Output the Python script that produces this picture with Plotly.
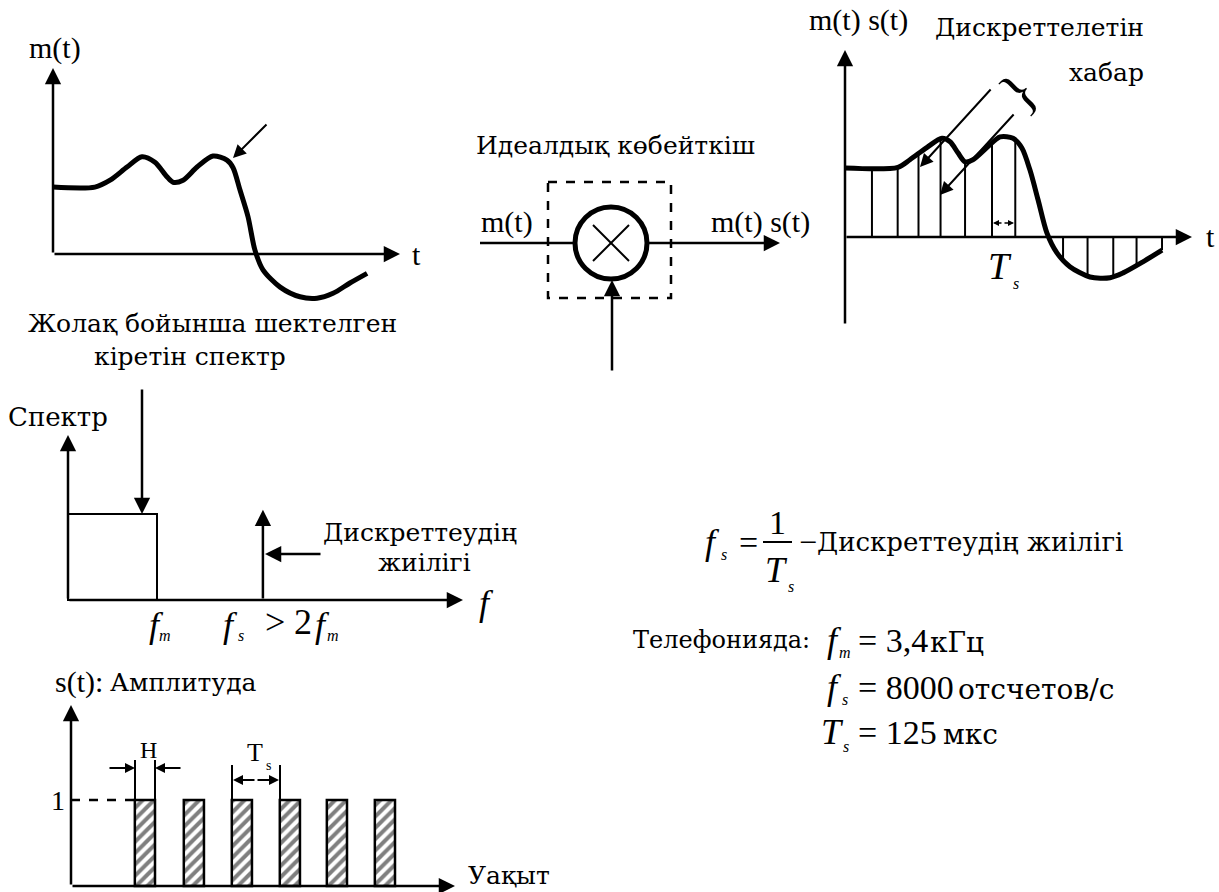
import plotly.graph_objects as go

W, H = 1219, 892
FONT = "Liberation Serif, 'Times New Roman', serif"
FONT_CYR = "'DejaVu Serif', serif"
BLACK = "#000000"

# --- data ------------------------------------------------------------------
# message m(t): time in sampling periods, amplitude relative to the flat start
MT_T = [0, 1.71, 2.33, 3.02, 3.63, 4.16, 4.65, 4.90, 5.31, 5.88, 6.53, 7.10,
        7.35, 7.63, 7.96, 8.24, 8.57, 9.27, 10.08, 10.78, 11.43, 12.12, 12.82]
MT_V = [0.97, 0.97, 1.07, 1.26, 1.41, 1.33, 1.12, 1.04, 1.07, 1.26, 1.42, 1.36,
        1.25, 0.93, 0.54, 0.06, -0.23, -0.48, -0.62, -0.64, -0.57, -0.42, -0.28]

# sampled message m(t)s(t)
MS_T = [0, 2.16, 2.65, 3.35, 3.96, 4.29, 4.61, 4.90, 5.22, 5.80, 6.33, 6.86,
        7.22, 7.55, 7.88, 8.24, 8.65, 9.18, 10.0, 10.82, 11.35, 12.16, 12.94]
MS_V = [1.0, 1.01, 1.12, 1.30, 1.43, 1.38, 1.22, 1.09, 1.12, 1.30, 1.45, 1.43,
        1.29, 0.97, 0.54, 0.06, -0.23, -0.43, -0.58, -0.59, -0.52, -0.36, -0.19]
SAMPLE_T = [1.1, 2.15, 3.0, 3.9, 4.9, 6.0, 6.95, 8.9, 9.9, 10.95, 11.9, 12.94]
SAMPLE_V = [1.0, 1.01, 1.21, 1.42, 1.09, 1.36, 1.42, -0.32, -0.56, -0.58, -0.42, -0.19]

# spectrum (frequency in units of f_m)
FM = 1.0
FS = 2.19
SPEC_H = 1.0
IMPULSE_H = 1.05

# sampling pulses s(t) (time in units of T_s)
PULSE_START = [1.33, 2.35, 3.35, 4.35, 5.33, 6.33]
PULSE_WIDTH = 0.42
PULSE_AMP = 1.0

fig = go.Figure()


def frame(idx, px0, px1, py0, py1, ox, oy, sx, sy):
    # an invisible axis pair placed on the page in pixels; origin (ox, oy), sx/sy px per unit
    xn = "xaxis" if idx == 1 else "xaxis%d" % idx
    yn = "yaxis" if idx == 1 else "yaxis%d" % idx
    xr = "x" if idx == 1 else "x%d" % idx
    yr = "y" if idx == 1 else "y%d" % idx
    fig.update_layout({
        xn: dict(domain=[px0 / W, px1 / W], range=[(px0 - ox) / sx, (px1 - ox) / sx],
                 visible=False, fixedrange=True, anchor=yr),
        yn: dict(domain=[1 - py1 / H, 1 - py0 / H], range=[(oy - py1) / sy, (oy - py0) / sy],
                 visible=False, fixedrange=True, anchor=xr),
    })
    return xr, yr


# page frame in pixels (y down) and one frame per small chart
PX, PY = frame(1, 0, W, 0, H, 0, 0, 1, -1)
A_O = (53, 254)
C_O = (845, 237)
S_O = (68, 600)
U_O = (71, 886)
AX, AY = frame(2, 0, 430, 30, 340, A_O[0], A_O[1], 24.5, 69)
CX, CY = frame(3, 790, W, 0, 340, C_O[0], C_O[1], 24.5, 69)
SX, SY = frame(4, 0, 520, 400, 660, S_O[0], S_O[1], 89, 86)
UX, UY = frame(5, 0, 620, 660, H, U_O[0], U_O[1], 48, 86)


def txt(x, y, s, size=30, anchor="center", angle=0, family=FONT):
    fig.add_annotation(x=x, y=y, xref=PX, yref=PY, text=s, showarrow=False,
                       xanchor=anchor, yanchor="middle", textangle=angle,
                       font=dict(family=family, size=size, color=BLACK))


def cyr(x, y, s, size=25, anchor="center"):
    txt(x, y, s, size=size, anchor=anchor, family=FONT_CYR)


def arrow(x0, y0, x1, y1, width=2.5, size=1.3, xr=PX, yr=PY):
    fig.add_annotation(x=x1, y=y1, ax=x0, ay=y0, xref=xr, yref=yr, axref=xr, ayref=yr,
                       text="", showarrow=True, arrowhead=2, arrowsize=size,
                       arrowwidth=width, arrowcolor=BLACK, standoff=0)


def line(x0, y0, x1, y1, width=2.5, dash="solid"):
    fig.add_shape(type="line", x0=x0, y0=y0, x1=x1, y1=y1, xref=PX, yref=PY,
                  line=dict(color=BLACK, width=width, dash=dash))


# ---- panel A: band limited message ----------------------------------------
fig.add_trace(go.Scatter(x=MT_T, y=MT_V, mode="lines", xaxis=AX, yaxis=AY,
                         line=dict(color=BLACK, width=5, shape="spline", smoothing=0.8)))
arrow(A_O[0], A_O[1], A_O[0], 68)
arrow(A_O[0], A_O[1], 400, A_O[1])
arrow(268, 123, 233, 158, width=2)
txt(55, 48, "m(t)")
txt(416, 254, "t")
cyr(212, 323, "Жолақ бойынша шектелген")
cyr(190, 356, "кіретін спектр")

# ---- panel B: ideal multiplier --------------------------------------------
cyr(615, 145, "Идеалдық көбейткіш")
fig.add_shape(type="rect", x0=548, x1=671, y0=182, y1=298, xref=PX, yref=PY,
              line=dict(color=BLACK, width=2.5, dash="dash"))
line(480, 243, 574, 243)
arrow(646, 243, 780, 243)
arrow(612, 372, 612, 280)
fig.add_shape(type="circle", x0=575, x1=647, y0=207, y1=279, xref=PX, yref=PY,
              line=dict(color=BLACK, width=5), fillcolor="white")
line(593, 225, 629, 261, width=2)
line(593, 261, 629, 225, width=2)
txt(507, 222, "m(t)")
txt(760, 222, "m(t) s(t)")

# ---- panel C: sampled message ---------------------------------------------
sx, sy = [], []
for t, v in zip(SAMPLE_T, SAMPLE_V):
    sx += [t, t, None]
    sy += [0, v, None]
fig.add_trace(go.Scatter(x=sx, y=sy, mode="lines", xaxis=CX, yaxis=CY,
                         line=dict(color=BLACK, width=2)))
fig.add_trace(go.Scatter(x=MS_T, y=MS_V, mode="lines", xaxis=CX, yaxis=CY,
                         line=dict(color=BLACK, width=5, shape="spline", smoothing=0.8)))
arrow(C_O[0], 325, C_O[0], 50)
arrow(C_O[0], C_O[1], 1192, C_O[1])
txt(858, 20, "m(t) s(t)")
cyr(1146, 27, "Дискреттелетін", anchor="right")
cyr(1146, 72, "хабар", anchor="right")
txt(1210, 236, "t")
txt(1018, 92, "}", size=56, angle=-45)
arrow(992, 88, 920, 167, width=2)
arrow(1015, 113, 940, 195, width=2)
arrow(1003, 223, 993, 223, width=1.5, size=0.8)
arrow(1003, 223, 1014, 223, width=1.5, size=0.8)
txt(1000, 266, "<i>T</i>", size=38)
txt(1016, 283, "<i>s</i>", size=16)

# ---- spectrum -------------------------------------------------------------
fig.add_trace(go.Bar(x=[FM / 2], y=[SPEC_H], width=[FM], xaxis=SX, yaxis=SY,
                     marker=dict(color="white", line=dict(color=BLACK, width=2))))
arrow(FS, 0, FS, IMPULSE_H, xr=SX, yr=SY)
arrow(S_O[0], S_O[1], S_O[0], 435)
arrow(S_O[0], S_O[1], 463, S_O[1])
arrow(142, 388, 142, 514)
arrow(322, 554, 265, 554)
cyr(58, 417, "Спектр", size=26)
cyr(420, 532, "Дискреттеудің")
cyr(424, 562, "жиілігі")
txt(486, 603, "<i>f</i>", size=36)
txt(156, 625, "<i>f</i>", size=36)
txt(165, 635, "<i>m</i>", size=16)
txt(230, 625, "<i>f</i>", size=36)
txt(241, 635, "<i>s</i>", size=16)
txt(275, 622, ">", size=36)
txt(303, 622, "2", size=36)
txt(322, 625, "<i>f</i>", size=36)
txt(333, 635, "<i>m</i>", size=16)

# ---- sampling pulses ------------------------------------------------------
fig.add_trace(go.Bar(x=[s + PULSE_WIDTH / 2 for s in PULSE_START],
                     y=[PULSE_AMP] * len(PULSE_START),
                     width=[PULSE_WIDTH] * len(PULSE_START), xaxis=UX, yaxis=UY,
                     marker=dict(color="white", line=dict(color=BLACK, width=2.5),
                                 pattern=dict(shape="/", fgcolor=BLACK, bgcolor="white",
                                              size=8, solidity=0.5))))
arrow(U_O[0], U_O[1], U_O[0], 705)
arrow(U_O[0], U_O[1], 455, U_O[1])
txt(53, 682, "s(t):", anchor="left")
cyr(108, 682, "Амплитуда", anchor="left")
cyr(466, 875, "Уақыт", anchor="left")
txt(58, 800, "1", size=28)
line(71, 800, 135, 800, dash="dash")
line(135, 760, 135, 800, width=2)
line(155, 760, 155, 800, width=2)
arrow(108, 768, 135, 768, width=2, size=1)
arrow(182, 768, 155, 768, width=2, size=1)
txt(148, 750, "H", size=24)
line(232, 765, 232, 800, width=2)
line(280, 765, 280, 800, width=2)
arrow(256, 780, 233, 780, width=2, size=1)
arrow(256, 780, 279, 780, width=2, size=1)
txt(255, 752, "T", size=26)
txt(268, 765, "s", size=14)

# ---- formulas -------------------------------------------------------------
txt(712, 542, "<i>f</i>", size=36)
txt(724, 554, "<i>s</i>", size=16)
txt(748, 542, "=", size=34)
txt(777, 522, "1", size=34)
line(763, 542, 792, 542, width=2)
txt(776, 570, "<i>T</i>", size=36)
txt(791, 586, "<i>s</i>", size=16)
txt(797, 542, "−", size=32, anchor="left")
cyr(815, 542, "Дискреттеудің жиілігі", size=26, anchor="left")

cyr(812, 640, "Телефонияда:", size=24, anchor="right")
txt(834, 640, "<i>f</i>", size=36)
txt(845, 652, "<i>m</i>", size=16)
txt(856, 640, "= 3,4", size=34, anchor="left")
cyr(928, 642, "кГц", size=28, anchor="left")
txt(834, 687, "<i>f</i>", size=36)
txt(845, 699, "<i>s</i>", size=16)
txt(856, 687, "= 8000", size=34, anchor="left")
cyr(956, 689, "отсчетов/с", size=28, anchor="left")
txt(832, 732, "<i>T</i>", size=36)
txt(846, 746, "<i>s</i>", size=16)
txt(856, 732, "= 125", size=34, anchor="left")
cyr(941, 734, "мкс", size=28, anchor="left")

fig.update_layout(width=W, height=H, margin=dict(l=0, r=0, t=0, b=0),
                  plot_bgcolor="white", paper_bgcolor="white", showlegend=False)

fig.write_html("out.html", config={"displayModeBar": False},
               post_script="document.body.style.margin = '0';")
